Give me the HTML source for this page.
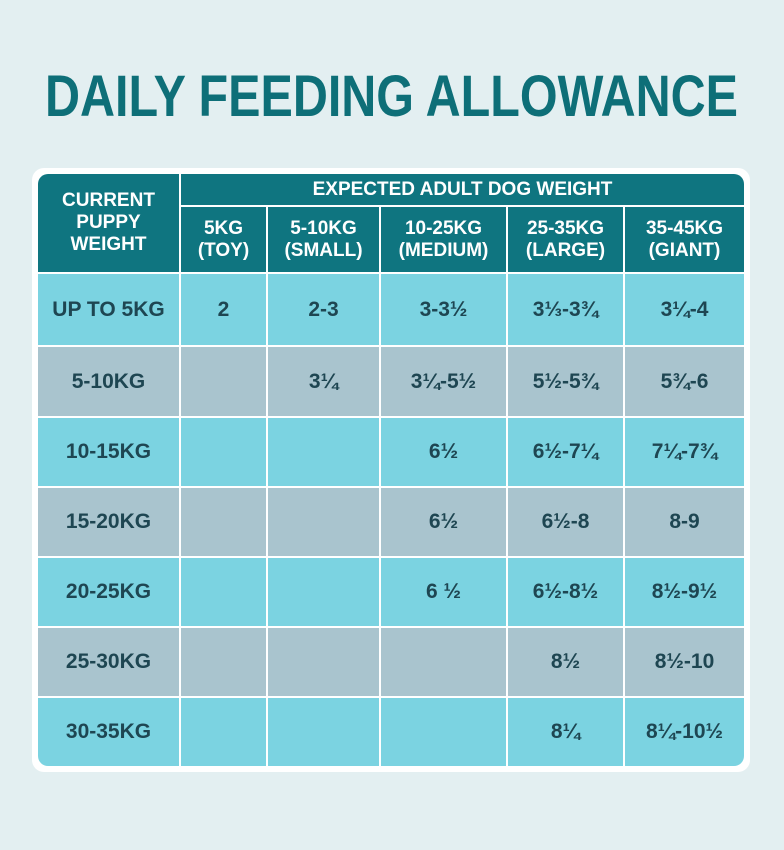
<!DOCTYPE html>
<html><head><style>
body{margin:0;width:784px;height:850px;background:#e3eff1;position:relative;overflow:hidden;font-family:"Liberation Sans Narrow","Liberation Sans",sans-serif;font-weight:bold}
.c{position:absolute;display:flex;align-items:center;justify-content:center;text-align:center;color:#1e4652;font-size:21px}
.h{background:#0f7580;color:#fff;font-size:19px;line-height:22px}
.a{background:#7bd3e1}.b{background:#a9c4ce}
</style></head><body>
<svg style="position:absolute;left:0;top:0" width="784" height="140"><text x="45" y="116" textLength="693" lengthAdjust="spacingAndGlyphs" font-family="Liberation Sans" font-weight="bold" font-size="58" fill="#0e6f78">DAILY FEEDING ALLOWANCE</text></svg>
<div style="position:absolute;left:32px;top:168px;width:718px;height:604px;background:#fff;border-radius:12px"></div>
<div class="c h" style="left:38px;top:174px;width:141px;height:98px;border-top-left-radius:10px">CURRENT<br>PUPPY<br>WEIGHT</div>
<div class="c h" style="left:181px;top:174px;width:563px;height:31px;border-top-right-radius:10px">EXPECTED ADULT DOG WEIGHT</div>
<div id="t"></div>
<script>
var xs=[[38,141],[181,85],[268,111],[381,125],[508,115],[625,119]];
var hd=["5KG<br>(TOY)","5-10KG<br>(SMALL)","10-25KG<br>(MEDIUM)","25-35KG<br>(LARGE)","35-45KG<br>(GIANT)"];
var rows=[["UP TO 5KG","2","2-3","3-3½","3⅓-3¾","3¼-4"],["5-10KG","","3¼","3¼-5½","5½-5¾","5¾-6"],["10-15KG","","","6½","6½-7¼","7¼-7¾"],["15-20KG","","","6½","6½-8","8-9"],["20-25KG","","","6 ½","6½-8½","8½-9½"],["25-30KG","","","","8½","8½-10"],["30-35KG","","","","8¼","8¼-10½"]];
var ys=[[274,71],[347,69],[418,68],[488,68],[558,68],[628,68],[698,68]];
var h="";
for(var i=0;i<5;i++)h+='<div class="c h" style="left:'+xs[i+1][0]+'px;top:207px;width:'+xs[i+1][1]+'px;height:65px">'+hd[i]+'</div>';
rows.forEach(function(r,j){r.forEach(function(t,i){var br="";if(j==6&&i==0)br="border-bottom-left-radius:10px;";if(j==6&&i==5)br="border-bottom-right-radius:10px;";
h+='<div class="c '+(j%2?'b':'a')+'" style="'+br+'left:'+xs[i][0]+'px;top:'+ys[j][0]+'px;width:'+xs[i][1]+'px;height:'+ys[j][1]+'px">'+t+'</div>';});});
document.getElementById("t").innerHTML=h;
</script>
</body></html>
